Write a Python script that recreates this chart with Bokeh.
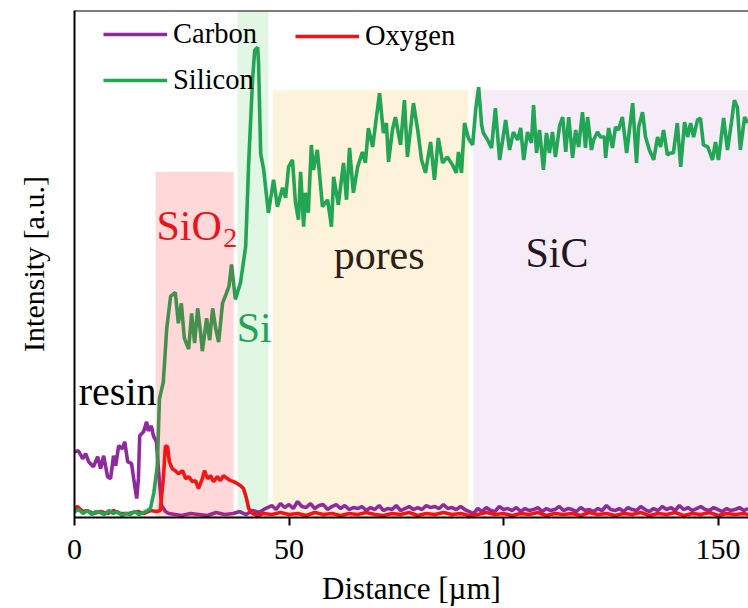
from bokeh.plotting import figure
from bokeh.models import (Range1d, FixedTicker, LinearAxis, Span, Label, Legend,
                          LegendItem)
from bokeh.embed import file_html
from bokeh.resources import INLINE

# ---------------- data ----------------
# shaded regions (µm) and heights (a.u.)
region_names = ["SiO2", "Si", "pores", "SiC"]
region_left = [18.9, 38.0, 46.2, 93.0]
region_right = [37.1, 45.2, 91.8, 157.2]
region_top = [347, 509, 429, 429]
region_colors = ["#FF1E1E", "#E2F6E4", "#FDF3DA", "#F6ECF8"]
region_alpha = [0.17, 1.0, 1.0, 1.0]

# Silicon
si_x = [0, 1, 2, 3, 4, 5, 6, 7, 8, 9, 10, 11, 12, 13, 14, 15, 16, 17, 17.7, 18.5,
        19.3, 19.8, 20.7, 21.5, 22.4, 23.5, 24.2, 24.9, 25.6, 26.6, 27.3, 28.0, 28.7,
        29.4, 29.8, 30.8, 31.5, 32.2, 32.9, 33.6, 34.5, 35.4, 36.0, 36.6, 37.5, 38.7,
        39.9, 40.6, 41.5, 42.0, 42.7, 42.9, 43.4, 44.1, 44.7, 45.2, 46.4, 47.3, 48.5,
        49.2, 49.9, 50.8, 51.5, 52.2, 52.7, 53.4, 53.8, 54.5, 55.2, 55.7, 56.6, 57.8,
        59.0, 59.9, 60.4, 61.5, 62.7, 63.4, 64.1, 65.0, 66.0, 67.1, 67.8, 68.5, 69.5,
        70.2, 71.1, 72.0, 72.7, 73.2, 74.1, 74.8, 76.0, 76.9, 77.6, 79.0, 80.0, 80.9,
        81.8, 83.0, 83.9, 84.8, 85.8, 86.9, 88.1, 89.0, 89.5, 90.2, 90.9, 91.8, 92.8,
        93.5, 94.2, 94.9, 95.3, 96.3, 97.2, 98.1, 99.1, 100.5, 101.4, 102.3, 103.3,
        104.0, 104.7, 105.6, 106.5, 107.0, 107.7, 108.4, 109.3, 110.0, 110.7, 111.4,
        112.1, 113.1, 113.8, 114.5, 115.2, 116.1, 116.8, 117.5, 118.4, 119.1, 119.6,
        120.5, 121.0, 121.9, 122.6, 123.5, 123.8, 124.5, 125.4, 126.1, 126.8, 127.7,
        128.7, 130.1, 131.0, 131.5, 132.4, 133.1, 134.0, 135.0, 135.9, 136.6, 137.3,
        138.2, 138.9, 139.6, 140.5, 141.3, 142.2, 142.9, 143.6, 144.3, 145.2, 145.9,
        146.6, 147.6, 148.7, 149.4, 150.1, 151.3, 152.2, 153.1, 153.8, 154.5, 155.2,
        156.2, 156.9]
si_y = [6, 8, 4, 7, 3, 6, 5, 3, 7, 4, 6, 2, 4, 3, 6, 3, 5, 7, 9, 25,
        52, 119, 136, 190, 222, 226, 195, 215, 180, 169, 205, 175, 210,
        185, 167, 200, 178, 210, 190, 176, 215, 225, 232, 254, 219, 236,
        272, 356, 439, 469, 472, 456, 365, 349, 325, 306, 339, 312, 331,
        321, 352, 359, 316, 299, 347, 292, 326, 306, 374, 349, 369, 312,
        319, 292, 342, 314, 356, 319, 371, 326, 352, 367, 356, 391, 372,
        396, 426, 386, 396, 357, 389, 402, 374, 419, 362, 416, 389, 359,
        346, 377, 339, 381, 356, 362, 354, 346, 367, 346, 396, 381, 374,
        409, 432, 394, 386, 379, 371, 411, 359, 399, 369, 387, 379,
        391, 359, 387, 376, 414, 366, 389, 349, 386, 366, 387,
        362, 394, 402, 367, 402, 361, 389, 372, 407, 371, 402,
        369, 379, 387, 382, 382, 361, 391, 371, 392, 389, 402,
        366, 416, 356, 392, 407, 382, 369, 359, 382, 372, 389,
        364, 366, 366, 396, 352, 397, 382, 396, 382, 399, 401,
        374, 372, 359, 377, 359, 401, 369, 396, 419, 412, 369,
        402, 396]

# Carbon
c_x = [0, 0.9, 1.9, 2.6, 3.3, 4.4, 5.4, 6.1, 6.8, 7.7, 8.4, 9.1, 9.6, 10.3, 11.2,
       11.7, 12.4, 13.3, 13.8, 14.5, 14.9, 15.2, 16.1, 16.8, 17.2, 17.9, 18.4, 19.1,
       19.6, 20.3, 21.2, 22, 23.5, 25, 27, 29, 31, 33, 35, 37, 38.5, 40, 41.5, 43,
       44.5, 46, 47, 48, 49, 50, 51, 52, 53, 54, 55, 56, 57, 58, 59, 60, 61, 62, 63,
       64, 65, 66, 67, 68, 69, 70, 71, 72, 73, 74, 75, 76, 77, 78, 79, 80, 81, 82,
       83, 84, 85, 86, 87, 88, 89, 90, 91, 92, 93, 94, 95, 96, 97, 98, 99, 100, 101,
       102, 103, 104, 105, 106, 107, 108, 109, 110, 111, 112, 113, 114, 115, 116,
       117, 118, 119, 120, 121, 122, 123, 124, 125, 126, 127, 128, 129, 130, 131,
       132, 133, 134, 135, 136, 137, 138, 139, 140, 141, 142, 143, 144, 145, 146,
       147, 148, 149, 150, 151, 152, 153, 154, 155, 156, 157]
c_y = [66, 67, 59, 64, 56, 51, 61, 49, 62, 41, 39, 62, 52, 72, 69,
       76, 56, 54, 39, 19, 39, 82, 86, 96, 87, 92, 82, 76,
       46, 12, 6, 4, 3, 2, 4, 3, 2, 5, 3, 4, 6, 3, 7, 5,
       9, 12, 8, 14, 10, 13, 9, 16, 11, 10, 14, 9, 12, 13, 8, 11, 13, 9, 12,
       8, 10, 9, 11, 7, 10, 8, 12, 7, 9, 8, 12, 7, 9, 11, 8, 10, 8, 12,
       10, 11, 9, 13, 9, 10, 8, 11, 8, 6, 4, 9, 6, 10, 7, 6, 11, 8, 9,
       7, 10, 6, 9, 7, 8, 10, 6, 9, 7, 8, 11, 7, 9, 8,
       6, 10, 7, 8, 6, 9, 7, 12, 8, 7, 9, 6, 10, 8, 7,
       11, 8, 6, 9, 7, 11, 8, 10, 7, 12, 8, 10, 7, 9, 11,
       8, 7, 10, 8, 6, 9, 7, 8, 10, 7, 9]

# Oxygen
o_x = [0, 0.7, 1.9, 3.0, 4.4, 6.1, 7.7, 9.1, 10.7, 12.6, 14.7, 16.1, 17.7, 19.1,
       20.0, 20.7, 21.2, 21.7, 22.1, 22.8, 23.5, 24.2, 25.2, 25.9, 26.6, 27.5, 28.2,
       28.9, 29.8, 30.3, 31.0, 31.7, 32.4, 33.3, 34.0, 34.7, 35.7, 36.4, 37.1, 38.0,
       38.7, 39.4, 40.1, 40.6, 41.5, 42.7, 44, 46, 48, 50, 52, 54, 56, 58, 60, 62,
       64, 66, 68, 70, 72, 74, 76, 78, 80, 82, 84, 86, 88, 90, 92, 94, 96, 98, 100,
       102, 104, 106, 108, 110, 112, 114, 116, 118, 120, 122, 124, 126, 128, 130,
       132, 134, 136, 138, 140, 142, 144, 146, 148, 150, 152, 154, 156, 157]
o_y = [9, 11, 6, 7, 4, 6, 4, 7, 4, 4, 6, 4, 7, 6,
       7, 39, 72, 71, 56, 49, 47, 44, 47, 39, 41, 36, 37,
       29, 39, 47, 39, 42, 36, 41, 37, 42, 39, 37, 36, 34,
       32, 29, 19, 9, 4, 2, 4, 3, 5, 3, 4, 2, 5, 3, 4, 2,
       4, 3, 5, 3, 2, 4, 3, 5, 2, 4, 3, 5, 3, 4, 2, 3, 5, 3, 4,
       2, 4, 3, 5, 2, 4, 3, 4, 2, 5, 3, 4, 2, 4, 3,
       5, 2, 4, 3, 5, 2, 4, 3, 5, 2, 4, 3, 4, 3]

x_ticks = [0, 50, 100, 150]

# ---------------- figure ----------------
SERIF = "Liberation Serif"
PURPLE = "#8E2A9E"
RED = "#F21414"
GREEN = "#22A656"

p = figure(width=748, height=608, output_backend="svg", toolbar_location=None,
           x_range=Range1d(0, 157.1), y_range=Range1d(0, 509),
           min_border_left=74, min_border_right=0, min_border_top=10,
           min_border_bottom=89, x_axis_location=None, y_axis_location=None)
p.outline_line_color = None
p.xgrid.visible = False
p.ygrid.visible = False
p.background_fill_color = "white"
p.border_fill_color = "white"

# opaque regions behind the lines
back = [i for i in range(len(region_left)) if region_alpha[i] >= 1.0]
front = [i for i in range(len(region_left)) if region_alpha[i] < 1.0]
p.quad(left=[region_left[i] for i in back], right=[region_right[i] for i in back],
       bottom=[0] * len(back), top=[region_top[i] for i in back],
       fill_color=[region_colors[i] for i in back], line_color=None)

LW = 3.6
r_c = p.line(c_x, c_y, line_color=PURPLE, line_width=LW)
r_o = p.line(o_x, o_y, line_color=RED, line_width=LW)
r_s = p.line(si_x, si_y, line_color=GREEN, line_width=LW)

# translucent SiO2 region on top of the lines
p.quad(left=[region_left[i] for i in front], right=[region_right[i] for i in front],
       bottom=[0] * len(front), top=[region_top[i] for i in front],
       fill_color=[region_colors[i] for i in front],
       fill_alpha=[region_alpha[i] for i in front], line_color=None)

# axes
xa = LinearAxis(ticker=FixedTicker(ticks=x_ticks), axis_label="Distance [µm]")
xa.axis_line_width = 2
xa.axis_line_color = "black"
xa.major_tick_line_width = 2
xa.major_tick_in = 0
xa.major_tick_out = 8
xa.minor_tick_line_color = None
xa.major_label_text_font = SERIF
xa.major_label_text_font_size = "30px"
xa.major_label_text_color = "black"
xa.major_label_standoff = 14
xa.axis_label_text_font = SERIF
xa.axis_label_text_font_size = "31px"
xa.axis_label_text_font_style = "normal"
xa.axis_label_text_color = "black"
xa.axis_label_standoff = 9
p.add_layout(xa, "below")

ya = LinearAxis(ticker=FixedTicker(ticks=[]), axis_label="Intensity [a.u.]")
ya.axis_line_width = 2
ya.axis_line_color = "black"
ya.major_tick_line_color = None
ya.minor_tick_line_color = None
ya.major_label_text_font_size = "0px"
ya.major_label_standoff = 0
ya.axis_label_text_font = SERIF
ya.axis_label_text_font_size = "30px"
ya.axis_label_text_font_style = "normal"
ya.axis_label_text_color = "black"
ya.axis_label_standoff = 25
p.add_layout(ya, "left")

p.add_layout(Span(location=509, dimension="width", line_color="black", line_width=2))

# region labels
def lab(x, y, text, color, size):
    p.add_layout(Label(x=x, y=y, text=text, text_color=color, text_font=SERIF,
                       text_font_size=size, text_baseline="alphabetic",
                       text_align="left"))

lab(1.0, 126, "resin", "black", "40px")
lab(19.1, 293, "SiO", "#E8141C", "42px")
lab(34.7, 281, "2", "#E8141C", "28px")
lab(37.8, 190, "Si", "#23A454", "42px")
lab(60.4, 264, "pores", "#2B2116", "42px")
lab(105.1, 266, "SiC", "#221622", "42px")

# legends
def make_legend(items, loc):
    lg = Legend(items=items, location=loc, orientation="vertical",
                label_text_font=SERIF, label_text_font_size="28.5px",
                label_text_color="black", glyph_width=64, glyph_height=30,
                label_height=30, label_standoff=6, spacing=14, padding=0,
                margin=0, border_line_color=None, background_fill_alpha=0)
    p.add_layout(lg, "center")

make_legend([LegendItem(label="Carbon", renderers=[r_c]),
             LegendItem(label="Silicon", renderers=[r_s])], (29, 421))
make_legend([LegendItem(label="Oxygen", renderers=[r_o])], (221, 465))

open("out.html", "w").write(file_html(p, INLINE))
